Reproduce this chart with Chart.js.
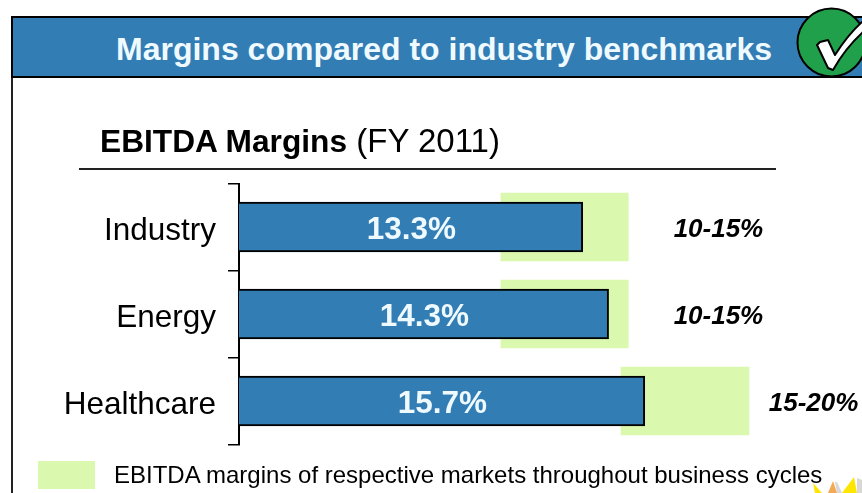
<!DOCTYPE html>
<html><head><meta charset="utf-8">
<script src="https://cdn.jsdelivr.net/npm/chart.js@4"></script>
<style>
html,body{margin:0;padding:0;background:#fff;overflow:hidden}
#wrap{position:relative;width:862px;height:493px;overflow:hidden;font-family:"Liberation Sans",Arial,sans-serif;color:#000}
canvas{position:absolute;left:0;top:0}
.abs{position:absolute;white-space:nowrap}
</style></head><body>
<div id="wrap">
<canvas id="c" width="862" height="493"></canvas>
<div class="abs" style="left:11px;top:16px;width:860px;height:58px;background:#337db5;border:2px solid #000;border-right:0"></div>
<div class="abs" style="left:11px;top:78px;width:2px;height:415px;background:#222"></div>
<div class="abs" id="head" style="left:116px;top:30px;font-size:32px;line-height:38px;font-weight:bold;color:#effaff"></div>
<div class="abs" id="sub" style="left:100px;top:123px;font-size:33px;line-height:36px"></div>
<div class="abs" style="left:79px;top:168px;width:697px;height:2px;background:#222"></div>
<div class="abs" style="left:38px;top:461px;width:57px;height:28px;background:#daf8ae"></div>
<div class="abs" id="leg" style="left:114px;top:462px;font-size:24px;line-height:26px"></div>
<svg class="abs" style="left:0;top:0" width="862" height="493">
  <circle cx="831.5" cy="42.5" r="34" fill="#21a04c" stroke="#000" stroke-width="2"></circle>
  <path d="M817 45 L820 42 L828 40 L835 55 C842 44 851 32 862 22 L866 28 L862 33 C850 44 841 56 833 70 L828 68 Z" fill="#fff" stroke="#000" stroke-width="2" stroke-linejoin="round"></path>
  <path d="M835 482 L837 482 L842 493 L837 493 Z" fill="#d8d8d8"></path>
  <path d="M857 478 L862 480 L862 493 L857 493 Z" fill="#d8d8d8"></path>
  <path d="M813 483 L822 493 L815 493 Z" fill="#ffe600"></path>
  <path d="M833 481 L837 493 L828 493 Z" fill="#f4a955"></path>
  <path d="M854 477 L857 493 L842 493 Z" fill="#ffe600"></path>
</svg>
</div>
<script>
const headerTitle = "Margins compared to industry benchmarks";
const chartTitleBold = "EBITDA Margins";
const chartTitleRest = " (FY 2011)";
const legendLabel = "EBITDA margins of respective markets throughout business cycles";
const categories = ["Industry", "Energy", "Healthcare"];
const margins = [13.3, 14.3, 15.7];
const marginLabels = ["13.3%", "14.3%", "15.7%"];
const rangeLow = [10.135, 10.135, 14.78];
const rangeHigh = [15.06, 15.06, 19.73];
const rangeLabels = ["10-15%", "10-15%", "15-20%"];

document.getElementById('head').textContent = headerTitle;
const sub = document.getElementById('sub');
const b = document.createElement('b'); b.textContent = chartTitleBold; b.style.fontSize = '31.7px';
sub.appendChild(b); sub.appendChild(document.createTextNode(chartTitleRest));
document.getElementById('leg').textContent = legendLabel;

const labelPlugin = {
  id: 'barLabels',
  afterDatasetsDraw(chart) {
    const ctx = chart.ctx, x = chart.scales.x;
    const bars = chart.getDatasetMeta(0).data;
    ctx.save();
    ctx.textBaseline = 'middle';
    ctx.textAlign = 'center';
    bars.forEach((bar, i) => {
      ctx.fillStyle = '#effaff';
      ctx.font = 'bold 31.5px "Liberation Sans", Arial, sans-serif';
      ctx.fillText(marginLabels[i], (x.left + bar.x) / 2 + 0.5, bar.y + 3.5);
      ctx.fillStyle = '#000';
      ctx.font = 'italic bold 26px "Liberation Sans", Arial, sans-serif';
      const pos = rangeHigh[i] < 16 ? rangeHigh[i] + 3.49 : rangeHigh[i] + 2.5;
      ctx.fillText(rangeLabels[i], x.getPixelForValue(pos), bar.y + 2.5);
    });
    ctx.restore();
  }
};

new Chart(document.getElementById('c'), {
  type: 'bar',
  data: {
    labels: categories,
    datasets: [
      { label: 'EBITDA margin', data: margins, backgroundColor: '#337db5', borderColor: '#000', borderWidth: 2, barThickness: 50, order: 1, grouped: false },
      { label: legendLabel, data: categories.map((_, i) => [rangeLow[i], rangeHigh[i]]), backgroundColor: '#daf8ae', borderWidth: 0, barThickness: 68, order: 2, grouped: false }
    ]
  },
  options: {
    indexAxis: 'y',
    responsive: false,
    animation: false,
    layout: { padding: { top: 183.5, bottom: 48.5, left: 0, right: 4 } },
    plugins: { legend: { display: false }, tooltip: { enabled: false } },
    scales: {
      x: { display: false, min: 0, max: 23.95 },
      y: {
        afterFit(s) { s.width = 239; },
        border: { display: true, color: '#000', width: 2 },
        grid: { offset: true, drawOnChartArea: false, drawTicks: true, tickLength: 11, color: '#000', lineWidth: 1.5 },
        ticks: { color: '#000', padding: 12, labelOffset: 4, font: { size: 31.5, family: '"Liberation Sans", Arial, sans-serif' } }
      }
    }
  },
  plugins: [labelPlugin]
});
</script>
</body></html>
